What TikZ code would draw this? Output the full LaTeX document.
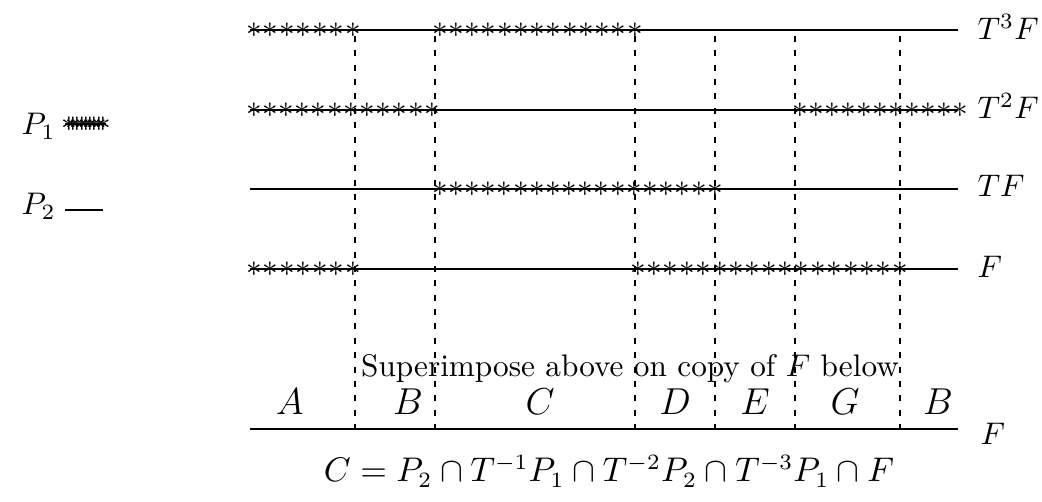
\documentclass[tikz,border=0pt]{standalone}
\begin{document}
\begin{tikzpicture}[x=0.32pt,y=-0.32pt,
  levelline/.style={line width=0.45pt},
  cutline/.style={line width=0.4pt,dash pattern=on 1.9pt off 2.7pt},
  star/.style={inner sep=0pt,anchor=base},
  lbl/.style={inner sep=0pt,anchor=base west},
  ctr/.style={inner sep=0pt,anchor=base}]
\useasboundingbox (0,0) rectangle (1042,502);
% level lines
\foreach \n/\y in {t3/30,t2/110,t1/189,t0/269,b/429}{
  \coordinate (\n L) at (250,\y);
  \coordinate (\n R) at (958,\y);
  \draw[levelline] (\n L) -- (\n R);
}
% labels
\node[lbl] (l3) at (977,40) {$T^3F$};
\node[lbl] (l2) at (977,119) {$T^2F$};
\node[lbl] (l1) at (977,197) {$TF$};
\node[lbl] (l0) at (977,278) {$F$};
\node[lbl] (lb) at (980,445) {$F$};
% dashed cuts
\foreach \x [count=\i] in {355,435,635,715,795,900}{
  \coordinate (c\i T) at (\x,36);
  \coordinate (c\i B) at (\x,429);
  \draw[cutline] (c\i T) -- (c\i B);
}
% asterisk rows: start, end, count, y  (glyph centred on line: baseline 7.8 units below)
\foreach \a/\b/\k/\y in {254/353/7/30, 440/635/13/30,
                          254/432/12/110, 800/960/11/110,
                          440/715/18/189,
                          254/353/7/269, 638/900/17/269}{
  \pgfmathsetmacro{\st}{(\b-\a)/(\k-1)}
  \foreach \j in {1,...,\k}{
    \pgfmathsetmacro{\xx}{\a+(\j-1)*\st}
    \node[star] at (\xx,\y+7.8) {$\ast$};
  }
}
% legend
\node[lbl] (p1) at (21,135) {$P_1$};
\node[lbl] (p2) at (21,215) {$P_2$};
\coordinate (p1a) at (65,124);
\coordinate (p1b) at (106,124);
\draw[levelline] (p1a) -- (p1b);
\foreach \j in {0,...,8}{
  \node[star] at (69+\j*4.3,124+7.8) {$\ast$};
}
\coordinate (p2a) at (65,210);
\coordinate (p2b) at (103,210);
\draw[levelline] (p2a) -- (p2b);
% text
\node[ctr] (sup) at (630,377) {Superimpose above on copy of $F$ below};
\foreach \t/\x in {A/290,B/408,C/540,D/675,E/755,G/845,B/938}{
  \node[ctr,font=\fontsize{11.5}{13}\selectfont] at (\x,415) {$\t$};
}
\node[ctr,font=\fontsize{10.6}{13}\selectfont] (eq) at (609,482) {$C=P_2\cap T^{-1}P_1\cap T^{-2}P_2\cap T^{-3}P_1\cap F$};
\end{tikzpicture}
\end{document}
